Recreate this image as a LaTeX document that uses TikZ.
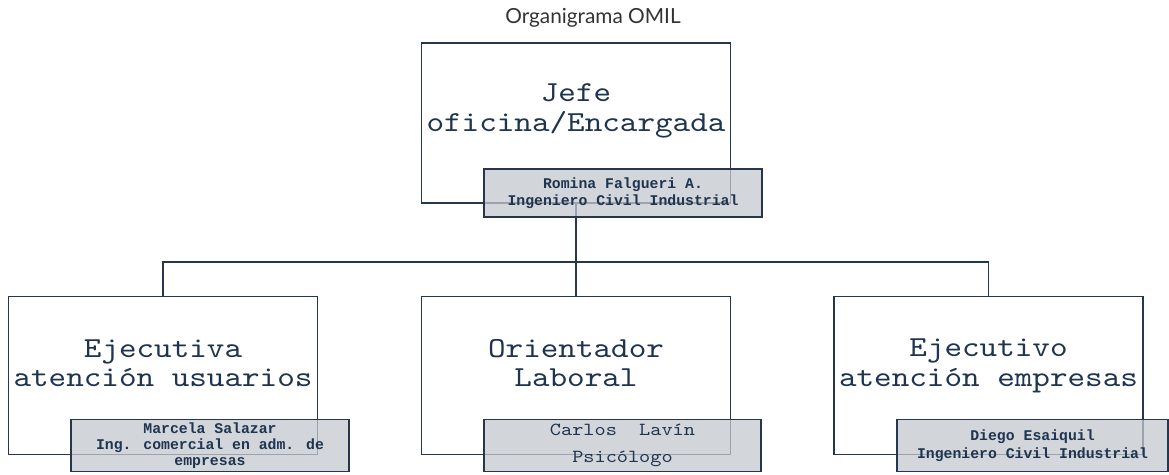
\documentclass[tikz,border=0pt]{standalone}
\usepackage{fontspec}
\usetikzlibrary{positioning}
\newfontfamily\orgmono{Liberation Mono}
\newfontfamily\orgsans{Lato}
\newfontfamily\orgcourier[FakeStretch=1.155]{lmmono10-regular.otf}
\definecolor{OrgNavy}{RGB}{38,55,77}
\definecolor{OrgInk}{RGB}{30,52,80}
\definecolor{OrgGray}{RGB}{196,200,205}
\definecolor{OrgTitle}{RGB}{51,51,51}
\tikzset{
  org/box/.style={
    draw=OrgNavy,
    line width=1.8pt,
    fill=white,
    minimum width=309pt,
    minimum height=158pt,
    inner sep=0pt
  },
  org/tag/.style={
    draw=OrgNavy,
    line width=1.8pt,
    fill=OrgGray,
    fill opacity=0.75,
    text opacity=1,
    align=center,
    text=OrgInk,
    inner sep=0pt,
    minimum width=278pt,
    minimum height=52pt,
    font=\orgmono\bfseries\fontsize{14.8}{16.5}\selectfont
  },
  org/role/.style={align=center, text=OrgInk, inner sep=0pt, font=\orgcourier\fontsize{29}{29.5}\selectfont},
  org/line/.style={draw=OrgNavy, line width=1.8pt},
  org/title/.style={font=\orgsans\fontsize{20.8}{24}\selectfont, text=OrgTitle, inner sep=0pt}
}

\begin{document}
\begin{tikzpicture}[x=1pt,y=-1pt]
  \useasboundingbox (0,0) rectangle (1169,474);
  \node[org/title] (title) at (593,18) {Organigrama OMIL};
  \node[org/box, minimum height=160pt] (jefe) at (576,123) {};
  \node[org/box] (ejecU) at (163,375.5) {};
  \node[org/box] (orient) at (576,375.5) {};
  \node[org/box] (ejecE) at (988.5,375.5) {};
  \coordinate (bus) at (576,262);
  \draw[org/line] (jefe.south) -- (bus);
  \foreach \kid in {ejecU,orient,ejecE}{\draw[org/line] (bus) -| (\kid.north);}
  \node[org/role] (jefeT) at (576,111) {Jefe\\oficina/Encargada};
  \node[org/role] (ejecUT) at (163,363) {Ejecutiva\\atención usuarios};
  \node[org/role] (orientT) at (576,363) {Orientador\\Laboral};
  \node[org/role] (ejecET) at (988.5,366) {Ejecutivo\\atención empresas};
  \node[org/tag, minimum height=48pt] (jefeTag) at (623,193) {Romina Falgueri A.\\Ingeniero Civil Industrial};
  \node[org/tag, font=\orgmono\bfseries\fontsize{14.8}{16}\selectfont] (ejecUTag) at (210,445.5) {Marcela Salazar\\Ing. comercial en adm. de\\empresas};
  \node[org/tag, font=\orgcourier\fontsize{18.4}{27}\selectfont, minimum width=277pt] (orientTag) at (622.5,445.5) {Carlos\ \ Lavín\\Psicólogo};
  \node[org/tag, minimum width=271pt, font=\orgmono\bfseries\fontsize{14.8}{18}\selectfont] (ejecETag) at (1032.5,445.5) {Diego Esaiquil\\Ingeniero Civil Industrial};
\end{tikzpicture}
\end{document}
